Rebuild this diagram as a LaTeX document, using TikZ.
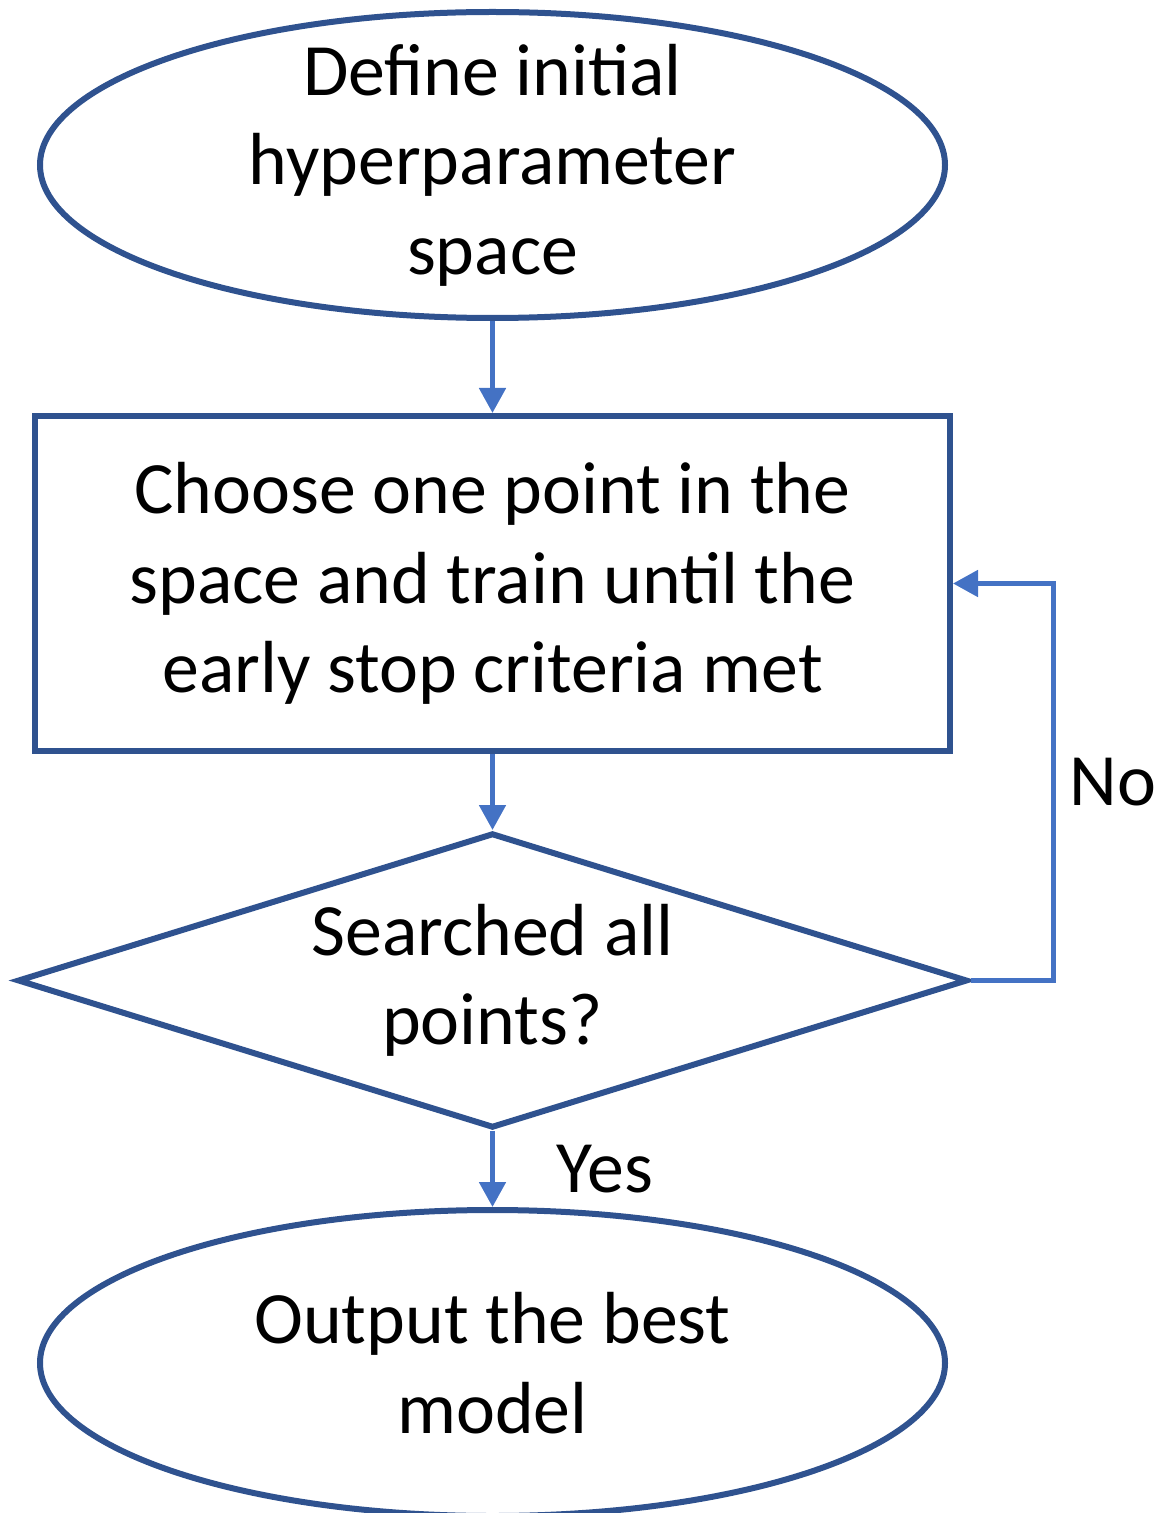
\documentclass[tikz,border=0pt]{standalone}
\usepackage{fontspec}
\setmainfont{Carlito}
\usepackage{xcolor}
\usepackage{tikz}
\usetikzlibrary{shapes.geometric, arrows.meta, positioning}
\definecolor{shapeblue}{HTML}{2F528F}
\definecolor{arrowblue}{HTML}{4472C4}
\tikzstyle{terminal} = [
    ellipse,
    draw=shapeblue,
    line width=0.06cm,
    minimum width=9.05cm,
    minimum height=3.06cm,
    inner xsep=0pt,
    inner ysep=-0.25cm,
    align=center
]
\tikzstyle{process} = [
    rectangle,
    draw=shapeblue,
    line width=0.06cm,
    minimum width=9.15cm,
    minimum height=3.35cm,
    inner sep=0pt,
    align=center
]
\tikzstyle{decision} = [
    diamond,
    draw=shapeblue,
    line width=0.06cm,
    aspect=3.28,
    minimum width=9.5cm,
    minimum height=2.95cm,
    inner sep=0pt,
    align=center
]
\tikzstyle{flowarrow} = [arrowblue, line width=0.05cm, -{Triangle[width=0.26cm,length=0.25cm]}]
\tikzstyle{flowlabel} = [text=black]

\begin{document}
\begin{tikzpicture}[font=\fontsize{21}{25.5}\selectfont]
    \useasboundingbox (0,0) rectangle (11.61,-15.13);
    % Kästen
    \node (space) [terminal] at (4.925,-1.65) {Define initial\\hyperparameter\\space};
    \node (choose) [process, below=0.92cm of space] {Choose one point in the\\space and train until the\\early stop criteria met};
    \node (search) [decision, below=0.76cm of choose] {Searched all\\points?};
    \node (best) [terminal, below=0.76cm of search] {Output the best\\model};
    \coordinate [right=0.83cm of search.east] (loop);
    % Pfeile
    \draw [flowarrow] (space) -- (choose);
    \draw [flowarrow] (choose) -- (search);
    \draw [flowarrow] (search) -- node[flowlabel, right=0.5cm] {Yes} (best);
    \draw [flowarrow] (search.east) -- (loop) |- node[flowlabel, pos=0.25, right=0.02cm] {No} (choose.east);
\end{tikzpicture}
\end{document}
